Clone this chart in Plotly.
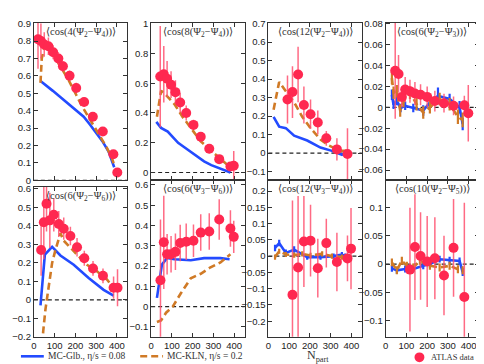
import plotly.graph_objects as go

# ---------------- data ----------------
xticks_npart = [0, 100, 200, 300, 400]

titles = [
    "⟨cos(4(Ψ<sub>2</sub>−Ψ<sub>4</sub>))⟩",
    "⟨cos(8(Ψ<sub>2</sub>−Ψ<sub>4</sub>))⟩",
    "⟨cos(12(Ψ<sub>2</sub>−Ψ<sub>4</sub>))⟩",
    "⟨cos(6(Ψ<sub>2</sub>−Ψ<sub>3</sub>))⟩",
    "⟨cos(6(Ψ<sub>2</sub>−Ψ<sub>6</sub>))⟩",
    "⟨cos(6(Ψ<sub>3</sub>−Ψ<sub>6</sub>))⟩",
    "⟨cos(12(Ψ<sub>3</sub>−Ψ<sub>4</sub>))⟩",
    "⟨cos(10(Ψ<sub>2</sub>−Ψ<sub>5</sub>))⟩",
]

# panel 1: cos(4(Psi2-Psi4))
p1_atlas_n = [20, 34, 50, 70, 93, 118, 140, 172, 204, 242, 284, 332, 383, 402]
p1_atlas_v = [0.81, 0.80, 0.78, 0.77, 0.735, 0.70, 0.655, 0.60, 0.53, 0.45, 0.365, 0.28, 0.15, 0.045]
p1_atlas_e = [0.17, 0.10, 0.07, 0.05, 0.04, 0.035, 0.03, 0.03, 0.03, 0.025, 0.02, 0.02, 0.02, 0.015]
p1_glb_n = [32, 60, 90, 120, 150, 180, 210, 240, 270, 300, 330, 360, 387]
p1_glb_v = [0.57, 0.545, 0.515, 0.485, 0.455, 0.43, 0.40, 0.365, 0.32, 0.275, 0.225, 0.165, 0.075]
p1_kln_n = [32, 38, 50, 70, 95, 120, 145, 170, 200, 230, 260, 290, 320, 350, 375, 388]
p1_kln_v = [0.56, 0.70, 0.76, 0.76, 0.72, 0.67, 0.62, 0.57, 0.50, 0.43, 0.37, 0.31, 0.25, 0.19, 0.13, 0.085]

# panel 2: cos(8(Psi2-Psi4))
p2_atlas_n = [44, 61, 77, 96, 117, 140, 169, 204, 239, 280, 328, 382, 398]
p2_atlas_v = [0.645, 0.66, 0.63, 0.59, 0.54, 0.47, 0.40, 0.32, 0.24, 0.16, 0.09, 0.04, 0.045]
p2_atlas_e = [0.34, 0.19, 0.12, 0.09, 0.08, 0.065, 0.05, 0.035, 0.03, 0.03, 0.025, 0.03, 0.1]
p2_glb_n = [25, 48, 80, 105, 130, 160, 190, 220, 255, 290, 335, 382]
p2_glb_v = [0.34, 0.30, 0.275, 0.235, 0.20, 0.17, 0.14, 0.11, 0.075, 0.05, 0.025, 0.0]
p2_kln_n = [28, 48, 72, 112, 151, 191, 239, 286, 334, 366, 385]
p2_kln_v = [0.375, 0.55, 0.52, 0.46, 0.375, 0.30, 0.21, 0.15, 0.09, 0.05, 0.03]

# panel 3: cos(12(Psi2-Psi4))
p3_atlas_n = [92, 116, 143, 171, 203, 238, 279, 330, 381]
p3_atlas_v = [0.29, 0.33, 0.425, 0.26, 0.21, 0.165, 0.08, 0.02, -0.005]
p3_atlas_e = [0.13, 0.14, 0.15, 0.10, 0.08, 0.065, 0.04, 0.06, 0.14]
p3_glb_n = [25, 52, 84, 124, 187, 251, 306, 354, 370]
p3_glb_v = [0.196, 0.143, 0.135, 0.094, 0.068, 0.03, 0.012, -0.009, 0.004]
p3_kln_n = [25, 52, 84, 124, 163, 203, 251, 290, 346, 381]
p3_kln_v = [0.235, 0.385, 0.335, 0.275, 0.196, 0.135, 0.073, 0.042, 0.012, 0.012]

# panel 4: cos(6(Psi2-Psi3))
p4_atlas_n = [46, 62, 78, 94, 117, 141, 168, 200, 237, 281, 327, 379, 398]
p4_atlas_v = [0.035, 0.032, 0.010, 0.017, 0.0155, 0.0133, 0.012, 0.010, 0.006, 0.004, 0.0015, 0.002, -0.0056]
p4_atlas_e = [0.046, 0.018, 0.01, 0.012, 0.011, 0.011, 0.01, 0.01, 0.01, 0.009, 0.009, 0.009, 0.027]
p4_glb_n = [30, 38, 54, 72, 94, 133, 181, 213, 252, 308, 356, 371]
p4_glb_v = [0.012, 0.0025, 0.006, -0.0006, 0.0015, -0.0006, -0.003, 0.0047, 0.011, 0.008, 0.0, -0.016]
p4_glb_e = [0.005, 0.004, 0.004, 0.004, 0.004, 0.004, 0.005, 0.005, 0.008, 0.005, 0.006, 0.006]
p4_kln_n = [30, 38, 54, 70, 86, 117, 149, 181, 213, 260, 308, 348, 371]
p4_kln_v = [0.028, 0.014, 0.0155, -0.003, 0.006, 0.014, 0.003, -0.005, 0.0, 0.008, 0.003, -0.009, -0.012]
p4_kln_e = [0.006, 0.006, 0.006, 0.006, 0.006, 0.006, 0.006, 0.006, 0.006, 0.006, 0.006, 0.007, 0.007]

# panel 5: cos(6(Psi2-Psi6))
p5_atlas_n = [35, 48, 61, 77, 96, 120, 144, 176, 208, 243, 285, 333, 384, 403]
p5_atlas_v = [0.27, 0.42, 0.52, 0.43, 0.46, 0.41, 0.385, 0.345, 0.285, 0.225, 0.17, 0.13, 0.066, 0.066]
p5_atlas_e = [0.14, 0.2, 0.15, 0.15, 0.09, 0.07, 0.06, 0.05, 0.05, 0.04, 0.04, 0.04, 0.06, 0.1]
p5_glb_n = [32, 53, 88, 128, 192, 264, 336, 384]
p5_glb_v = [-0.03, 0.245, 0.287, 0.24, 0.19, 0.118, 0.054, 0.023]
p5_kln_n = [38, 45, 56, 72, 88, 104, 128, 144, 176, 208, 256, 304, 352, 384]
p5_kln_v = [-0.3, -0.17, -0.05, 0.09, 0.2, 0.27, 0.36, 0.32, 0.28, 0.245, 0.19, 0.155, 0.11, 0.066]

# panel 6: cos(6(Psi3-Psi6))
p6_atlas_n = [45, 61, 77, 96, 117, 140, 169, 204, 239, 280, 328, 382, 398]
p6_atlas_v = [0.13, 0.317, 0.258, 0.258, 0.27, 0.314, 0.32, 0.325, 0.365, 0.37, 0.43, 0.385, 0.344]
p6_atlas_e = [0.3, 0.23, 0.1, 0.09, 0.09, 0.09, 0.09, 0.08, 0.09, 0.09, 0.1, 0.09, 0.08]
p6_glb_n = [28, 52, 77, 112, 191, 255, 334, 378]
p6_glb_v = [0.043, 0.207, 0.24, 0.234, 0.229, 0.239, 0.239, 0.234]
p6_kln_n = [28, 48, 72, 104, 144, 191, 239, 286, 334, 382]
p6_kln_v = [-0.076, -0.068, -0.03, 0.0, 0.067, 0.14, 0.162, 0.194, 0.218, 0.258]

# panel 7: cos(12(Psi3-Psi4))
p7_atlas_n = [116, 143, 171, 203, 238, 279, 330, 381, 398]
p7_atlas_v = [-0.119, -0.035, 0.045, 0.0475, -0.037, 0.04, -0.018, -0.007, 0.023]
p7_atlas_e = [0.29, 0.22, 0.14, 0.11, 0.09, 0.075, 0.09, 0.07, 0.125]
p7_glb_n = [32, 52, 84, 124, 187, 251, 314, 354, 370]
p7_glb_v = [0.025, 0.04, 0.01, 0.02, -0.003, -0.003, 0.0, 0.005, 0.0]
p7_glb_e = [0.01, 0.01, 0.01, 0.01, 0.008, 0.008, 0.008, 0.008, 0.008]
p7_kln_n = [32, 52, 84, 124, 163, 203, 259, 306, 354, 378]
p7_kln_v = [-0.003, 0.015, 0.005, 0.003, 0.007, 0.002, 0.007, 0.0, -0.003, -0.003]
p7_kln_e = [0.008, 0.008, 0.008, 0.008, 0.008, 0.008, 0.008, 0.008, 0.008, 0.008]

# panel 8: cos(10(Psi2-Psi5))
p8_atlas_n = [117, 141, 168, 200, 237, 281, 327, 379]
p8_atlas_v = [-0.0097, 0.030, 0.0143, 0.0046, 0.0103, -0.02, 0.0286, -0.058]
p8_atlas_e = [0.109, 0.093, 0.077, 0.08, 0.072, 0.07, 0.086, 0.166]
p8_glb_n = [30, 54, 94, 133, 181, 213, 260, 308, 356, 371]
p8_glb_v = [-0.0074, -0.011, -0.0086, -0.0086, -0.003, 0.0, 0.0086, 0.0069, 0.0057, -0.014]
p8_glb_e = [0.006, 0.006, 0.006, 0.006, 0.006, 0.006, 0.006, 0.006, 0.006, 0.007]
p8_kln_n = [30, 54, 78, 102, 133, 165, 213, 260, 308, 348, 371]
p8_kln_v = [0.003, -0.011, 0.006, -0.003, -0.006, 0.006, -0.003, -0.006, -0.003, -0.009, -0.011]
p8_kln_e = [0.007, 0.007, 0.007, 0.007, 0.007, 0.007, 0.007, 0.007, 0.007, 0.007, 0.007]

legend_glb = "MC-Glb., η/s = 0.08"
legend_kln = "MC-KLN, η/s = 0.2"
legend_atlas = "ATLAS data"
xlabel = "N<sub>part</sub>"

# ---------------- layout geometry ----------------
W, H = 484, 364
BLUE = "rgb(35,75,255)"
ORANGE = "rgb(208,122,38)"
RED = "rgb(255,40,80)"
RED_ERR = "rgba(255,80,110,0.85)"
TICKFONT = dict(family="Liberation Sans, Arial, sans-serif", size=9.5, color="#222")
SERIF = "Liberation Serif, DejaVu Serif, serif"

cols_px = [(23, 117), (141, 235), (259, 353), (377, 471)]
panels = [
    # (atlas_n, atlas_v, atlas_e, glb_n, glb_v, glb_e, kln_n, kln_v, kln_e, yrange, dtick, ypx)
    (p1_atlas_n, p1_atlas_v, p1_atlas_e, p1_glb_n, p1_glb_v, None, p1_kln_n, p1_kln_v, None, [0, 0.905], 0.1, (10, 172)),
    (p2_atlas_n, p2_atlas_v, p2_atlas_e, p2_glb_n, p2_glb_v, None, p2_kln_n, p2_kln_v, None, [-0.052, 1.0065], 0.2, (10, 172)),
    (p3_atlas_n, p3_atlas_v, p3_atlas_e, p3_glb_n, p3_glb_v, None, p3_kln_n, p3_kln_v, None, [-0.147, 0.705], 0.1, (10, 172)),
    (p4_atlas_n, p4_atlas_v, p4_atlas_e, p4_glb_n, p4_glb_v, p4_glb_e, p4_kln_n, p4_kln_v, p4_kln_e, [-0.0698, 0.081], 0.02, (10, 172)),
    (p5_atlas_n, p5_atlas_v, p5_atlas_e, p5_glb_n, p5_glb_v, None, p5_kln_n, p5_kln_v, None, [-0.2, 0.61], 0.1, (179, 333)),
    (p6_atlas_n, p6_atlas_v, p6_atlas_e, p6_glb_n, p6_glb_v, None, p6_kln_n, p6_kln_v, None, [-0.149, 0.623], 0.1, (172, 333)),
    (p7_atlas_n, p7_atlas_v, p7_atlas_e, p7_glb_n, p7_glb_v, p7_glb_e, p7_kln_n, p7_kln_v, p7_kln_e, [-0.248, 0.233], 0.05, (172, 333)),
    (p8_atlas_n, p8_atlas_v, p8_atlas_e, p8_glb_n, p8_glb_v, p8_glb_e, p8_kln_n, p8_kln_v, p8_kln_e, [-0.128, 0.1475], 0.05, (172, 333)),
]

fig = go.Figure()
layout = dict(
    width=W, height=H, margin=dict(l=0, r=0, t=0, b=0),
    paper_bgcolor="white", plot_bgcolor="white", showlegend=False,
)
shapes = []
annotations = []

for i, p in enumerate(panels):
    (an, av, ae, gn, gv, ge, kn, kv, ke, yr, dt, ypx) = p
    k = i + 1
    xa = "x" if k == 1 else f"x{k}"
    ya = "y" if k == 1 else f"y{k}"
    c0, c1 = cols_px[i % 4]
    y0, y1 = ypx
    bottom_row = i >= 4

    layout["xaxis" if k == 1 else f"xaxis{k}"] = dict(
        domain=[c0 / W, c1 / W], range=[0, 450], anchor=ya,
        tickvals=xticks_npart, ticks="inside", ticklen=4, tickcolor="#333",
        showticklabels=bottom_row, tickfont=TICKFONT,
        showline=True, linecolor="#333", linewidth=1, mirror="ticks",
        showgrid=False, zeroline=False, fixedrange=True,
    )
    layout["yaxis" if k == 1 else f"yaxis{k}"] = dict(
        domain=[1 - y1 / H, 1 - y0 / H], range=yr, anchor=xa,
        dtick=dt, tick0=0, ticks="inside", ticklen=4, tickcolor="#333",
        tickfont=TICKFONT, showline=True, linecolor="#333", linewidth=1, mirror="ticks",
        showgrid=False, zeroline=False, fixedrange=True,
    )

    # zero line
    shapes.append(dict(type="line", xref=f"{xa} domain", yref=ya, x0=0, x1=1, y0=0, y1=0,
                       line=dict(color="#222", width=1.1, dash="4px,3px"), layer="below"))

    glb = go.Scatter(x=gn, y=gv, mode="lines", line=dict(color=BLUE, width=2.6),
                     xaxis=xa, yaxis=ya)
    if ge is not None:
        glb.error_y = dict(type="data", array=ge, visible=True, color=BLUE, thickness=2.2, width=0)
    kln = go.Scatter(x=kn, y=kv, mode="lines", line=dict(color=ORANGE, width=2.6, dash="7px,4px"),
                     xaxis=xa, yaxis=ya)
    if ke is not None:
        kln.error_y = dict(type="data", array=ke, visible=True, color=ORANGE, thickness=2.2, width=0)
    fig.add_trace(glb)
    fig.add_trace(kln)
    fig.add_trace(go.Scatter(
        x=an, y=av, mode="markers",
        marker=dict(color=RED, size=10, line=dict(width=0)),
        error_y=dict(type="data", array=ae, visible=True, color=RED_ERR, thickness=1.5, width=0),
        xaxis=xa, yaxis=ya,
    ))

    annotations.append(dict(
        text=titles[i], xref=f"{xa} domain", yref=f"{ya} domain", x=0.5, y=1,
        xanchor="center", yanchor="top", yshift=-1, showarrow=False,
        font=dict(family=SERIF, size=10.5, color="#333"),
    ))

# ---------------- legend (bottom row) ----------------
def px(xp):
    return xp / W

def py(yp):
    return 1 - yp / H

LEG_Y = 353
shapes.append(dict(type="line", xref="paper", yref="paper", x0=px(10), x1=px(33), y0=py(LEG_Y), y1=py(LEG_Y),
                   line=dict(color=BLUE, width=2.6)))
shapes.append(dict(type="line", xref="paper", yref="paper", x0=px(130), x1=px(153), y0=py(LEG_Y), y1=py(LEG_Y),
                   line=dict(color=ORANGE, width=2.6, dash="7px,4px")))
shapes.append(dict(type="circle", xref="paper", yref="paper", x0=px(406), x1=px(416), y0=py(359), y1=py(349),
                   fillcolor=RED, line=dict(width=0)))
annotations += [
    dict(text=legend_glb, xref="paper", yref="paper", x=px(35), y=py(LEG_Y), xanchor="left", yanchor="middle",
         showarrow=False, font=dict(family=SERIF, size=9.5, color="#333")),
    dict(text=legend_kln, xref="paper", yref="paper", x=px(155), y=py(LEG_Y), xanchor="left", yanchor="middle",
         showarrow=False, font=dict(family=SERIF, size=9.5, color="#333")),
    dict(text=xlabel, xref="paper", yref="paper", x=px(309), y=py(363), xanchor="center", yanchor="bottom",
         showarrow=False, font=dict(family=SERIF, size=12, color="#333")),
    dict(text=legend_atlas, xref="paper", yref="paper", x=px(421), y=py(354), xanchor="left", yanchor="middle",
         showarrow=False, font=dict(family=SERIF, size=8.5, color="#333")),
]

layout["shapes"] = shapes
layout["annotations"] = annotations
fig.update_layout(**layout)
fig.write_html("out.html")
